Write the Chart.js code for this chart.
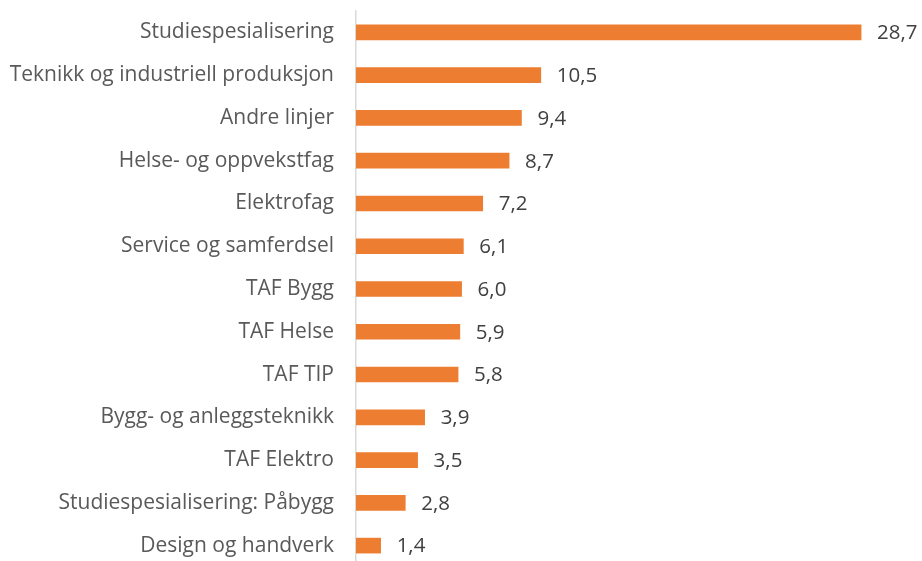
<!DOCTYPE html>
<html>
<head>
<meta charset="utf-8">
<script src="https://cdn.jsdelivr.net/npm/chart.js@4.4.1/dist/chart.umd.min.js"></script>
<style>
html,body{margin:0;padding:0;background:#fff;overflow:hidden;width:922px;height:561px;}
canvas{display:block;}
</style>
</head>
<body>
<canvas id="c" width="922" height="567" style="width:922px;height:567px;"></canvas>
<script>
const categories = [
  "Studiespesialisering",
  "Teknikk og industriell produksjon",
  "Andre linjer",
  "Helse- og oppvekstfag",
  "Elektrofag",
  "Service og samferdsel",
  "TAF Bygg",
  "TAF Helse",
  "TAF TIP",
  "Bygg- og anleggsteknikk",
  "TAF Elektro",
  "Studiespesialisering: Påbygg",
  "Design og handverk"
];
const values = [28.7, 10.5, 9.4, 8.7, 7.2, 6.1, 6.0, 5.9, 5.8, 3.9, 3.5, 2.8, 1.4];

const FONT = "'Open Sans', sans-serif";

const valueLabels = {
  id: 'valueLabels',
  afterDatasetsDraw(chart) {
    const ctx = chart.ctx;
    const meta = chart.getDatasetMeta(0);
    ctx.save();
    ctx.font = "20.5px " + FONT;
    ctx.fillStyle = "#404040";
    ctx.textAlign = "left";
    ctx.textBaseline = "middle";
    meta.data.forEach((bar, i) => {
      const txt = values[i].toFixed(1).replace('.', ',');
      ctx.fillText(txt, bar.x + 16, bar.y + 1);
    });
    ctx.restore();
  }
};

new Chart(document.getElementById('c'), {
  type: 'bar',
  data: {
    labels: categories,
    datasets: [{
      data: values,
      backgroundColor: '#ED7D31',
      borderWidth: 0,
      barThickness: 15
    }]
  },
  options: {
    indexAxis: 'y',
    responsive: false,
    animation: false,
    layout: { padding: { top: 11, right: 38, bottom: 0, left: 0 } },
    plugins: { legend: { display: false }, tooltip: { enabled: false } },
    scales: {
      x: { display: false, min: 0, max: 30 },
      y: {
        grid: { display: false, drawTicks: false },
        border: { display: true, color: '#d9d9d9', width: 1.5 },
        ticks: { color: '#595959', font: { family: FONT, size: 21 }, padding: 22, autoSkip: false },
        afterFit(scale) { scale.width = 356; scale.paddingTop = 0; scale.paddingBottom = 0; }
      }
    }
  },
  plugins: [valueLabels]
});
</script>
</body>
</html>
